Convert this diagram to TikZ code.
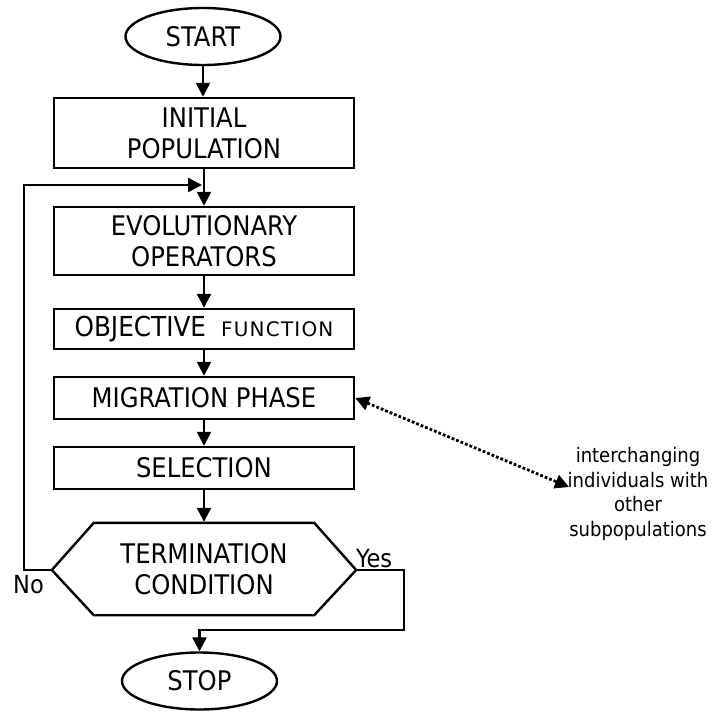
\documentclass[tikz,border=0pt]{standalone}
\usepackage{fontspec}
\setmainfont{DejaVu Sans Condensed}
\newfontfamily\widefont{DejaVu Sans}[LetterSpace=6]
\usetikzlibrary{arrows.meta,shapes.geometric}
\begin{document}
\begin{tikzpicture}[x=1pt,y=-1pt,line width=2.4pt,
  box/.style={draw,rectangle,minimum width=300pt,inner sep=0pt,align=center,
    font=\fontsize{27}{31}\selectfont},
  terminal/.style={draw,ellipse,minimum width=155pt,minimum height=57pt,inner sep=0pt,
    font=\fontsize{27}{31}\selectfont},
  flow/.style={-{Triangle[length=14pt,width=14pt]}},
  lbl/.style={inner sep=0pt,font=\fontsize{25}{29}\selectfont},
  exch/.style={line width=2.8pt,dash pattern=on 2.8pt off 2pt,
    {Triangle[length=14pt,width=14pt]}-{Triangle[length=14pt,width=14pt]}}]
\useasboundingbox (0,0) rectangle (714,712);
\node[terminal] (start) at (203,36.5) {START};
\node[box,minimum height=70pt] (init) at (204,133) {INITIAL\\POPULATION};
\node[box,minimum height=68pt] (evol) at (204,241) {EVOLUTIONARY\\OPERATORS};
\node[box,minimum height=40pt] (obj) at (204,329)
  {\fontsize{27.5}{30}\selectfont OBJECTIVE\hspace{15pt}{\widefont\fontsize{20}{22}\selectfont FUNCTION}};
\node[box,minimum height=42pt] (mig) at (204,398) {MIGRATION PHASE};
\node[box,minimum height=42pt] (sel) at (204,468) {SELECTION};
\node[rectangle,minimum width=302pt,minimum height=90pt,inner sep=0pt,align=center,
  font=\fontsize{27}{31}\selectfont] (term) at (204,569) {TERMINATION\\CONDITION};
\draw ([yshift=-1pt]term.west) -- ([xshift=42pt]term.north west) -- ([xshift=-42pt]term.north east)
  -- ([yshift=-1pt]term.east) -- ([xshift=-42pt]term.south east) -- ([xshift=42pt]term.south west) -- cycle;
\node[terminal] (stop) at (199.5,681) {STOP};
\node[align=center,inner sep=0pt,font=\fontsize{20}{24.5}\selectfont] (note) at (638,494)
  {interchanging\\individuals with\\other\\subpopulations};
\coordinate (noteend) at (569,487);
\coordinate (loopin) at (202,185);
\node[lbl,anchor=base west] (yes) at (355,567) {Yes};
\node[lbl,anchor=base west] (no) at (12,593) {No};
% connectors
\draw[flow] (start.south) -- (start.south |- init.north);
\draw[flow] (init.south) -- (evol.north);
\draw[flow] (evol.south) -- (obj.north);
\draw[flow] (obj.south) -- (mig.north);
\draw[flow] (mig.south) -- (sel.north);
\draw[flow] (sel.south) -- ([yshift=1pt]term.north);
\draw[flow] ([yshift=-1pt]term.west) -- ++(-28,0) |- (loopin);
\draw[flow] ([yshift=-1pt]term.east) -- ++(48,0) -- ++(0,60) -| (stop.north);
\draw[exch] (mig.east) -- (noteend);
\end{tikzpicture}
\end{document}
